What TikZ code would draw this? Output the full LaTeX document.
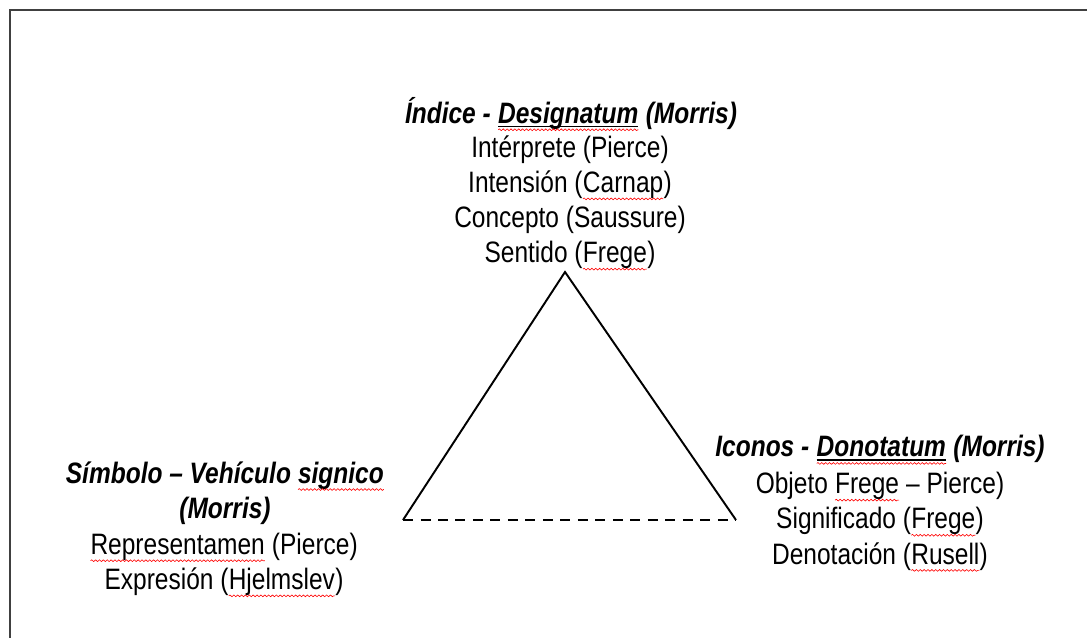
\documentclass[tikz,border=0pt]{standalone}
\usepackage{fontspec}
\setmainfont[FakeStretch=0.83]{Liberation Sans}
\usepackage{xcolor}
\usetikzlibrary{decorations.pathmorphing}

\tikzset{
  titletext/.style={font=\fontsize{16.8}{20}\selectfont\bfseries\itshape, align=center, inner sep=0pt},
  bodytext/.style={font=\fontsize{16.8}{20}\selectfont, align=center, inner sep=0pt},
  side/.style={line width=1.1pt},
  frame/.style={line width=1.2pt, black!75},
  wavy/.style={red, line width=0.35pt, decorate, decoration={snake, amplitude=0.5pt, segment length=2.2pt}},
}
% red spell-check wave under a word, optionally with a plain underline
\newcommand\spellwave[1]{\tikz[baseline=(w.base)]{\node[inner sep=0pt, outer sep=0pt] (w) {#1};
	\draw[wavy] ([yshift=-3.6pt]w.base west) -- ([yshift=-3.6pt]w.base east);}}
\newcommand\spellunder[1]{\tikz[baseline=(w.base)]{\node[inner sep=0pt, outer sep=0pt] (w) {#1};
	\draw[line width=0.7pt] ([yshift=-1.8pt]w.base west) -- ([yshift=-1.8pt]w.base east);
	\draw[wavy] ([yshift=-3.8pt]w.base west) -- ([yshift=-3.8pt]w.base east);}}

\begin{document}
\begin{tikzpicture}[x=0.02cm,y=-0.02cm]
	\useasboundingbox (0,0) rectangle (1087,638);
	\draw[frame] (10,638) -- (10,10) -- (1087,10);

	% the three corners
	\node[titletext] (indice) at (571,114) {Índice - \spellunder{Designatum} (Morris)};
	\node[bodytext] (indicebody) at (570,203) {Intérprete (Pierce)\\Intensión (\spellwave{Carnap})\\Concepto (Saussure)\\Sentido (\spellwave{Frege})};

	\node[titletext] (simbolo) at (225,493) {Símbolo – Vehículo \spellwave{signico}\\(Morris)};
	\node[bodytext] (simbolobody) at (224,565) {\spellwave{Representamen} (Pierce)\\Expresión (\spellwave{Hjelmslev})};

	\node[titletext] (iconos) at (880,450) {Iconos - \spellunder{Donotatum} (Morris)};
	\node[bodytext] (iconosbody) at (880,522) {Objeto \spellwave{Frege} – Pierce)\\Significado (\spellwave{Frege})\\Denotación (\spellwave{Rusell})};

	% triangle
	\coordinate (apex) at (565,272);
	\coordinate (left) at (403,520);
	\coordinate (right) at (736,520);
	\draw[side, line join=miter] (left) -- (apex) -- (right);
	\draw[side, dash pattern=on 0.2cm off 0.15cm] (left) -- (right);
\end{tikzpicture}
\end{document}
